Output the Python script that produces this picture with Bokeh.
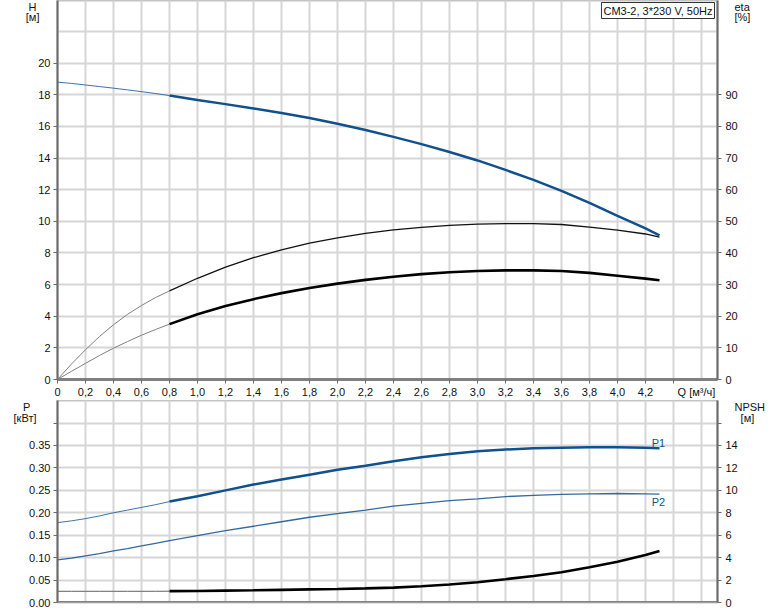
from bokeh.plotting import figure
from bokeh.models import Range1d, LinearAxis, FixedTicker, Label, Grid, Span
from bokeh.layouts import column
from bokeh.embed import file_html
from bokeh.resources import INLINE

# ---------------- data ----------------
Q = [0, 0.1, 0.2, 0.3, 0.4, 0.5, 0.6, 0.7, 0.8, 1.0, 1.2, 1.4, 1.6, 1.8, 2.0,
     2.2, 2.4, 2.6, 2.8, 3.0, 3.2, 3.4, 3.6, 3.8, 4.0, 4.2, 4.3]
H = [18.8, 18.72, 18.62, 18.52, 18.42, 18.31, 18.2, 18.08, 17.95, 17.67, 17.41,
     17.14, 16.85, 16.53, 16.17, 15.78, 15.34, 14.88, 14.38, 13.85, 13.25,
     12.62, 11.93, 11.17, 10.35, 9.55, 9.12]
ETA_PUMP = [0, 4.9, 9.4, 13.6, 17.3, 20.6, 23.4, 25.9, 28.0, 32.0, 35.5, 38.5,
            41.0, 43.1, 44.8, 46.2, 47.3, 48.1, 48.7, 49.1, 49.3, 49.3, 49.0,
            48.2, 47.2, 46.0, 45.0]
ETA_TOTAL = [0, 2.6, 5.1, 7.6, 9.9, 12.0, 14.0, 15.8, 17.5, 20.6, 23.2, 25.4,
             27.3, 28.9, 30.3, 31.5, 32.5, 33.3, 33.9, 34.3, 34.5, 34.5, 34.3,
             33.7, 32.8, 31.9, 31.4]
P1 = [0.178, 0.182, 0.187, 0.193, 0.200, 0.206, 0.212, 0.218, 0.225, 0.237,
      0.250, 0.263, 0.274, 0.285, 0.296, 0.305, 0.315, 0.324, 0.331, 0.337,
      0.341, 0.344, 0.345, 0.346, 0.346, 0.345, 0.344]
P2 = [0.095, 0.099, 0.104, 0.109, 0.115, 0.120, 0.126, 0.132, 0.138, 0.149,
      0.160, 0.170, 0.180, 0.190, 0.198, 0.206, 0.215, 0.221, 0.227, 0.231,
      0.236, 0.239, 0.241, 0.242, 0.243, 0.242, 0.2415]
NPSH = [1.0, 1.0, 1.0, 1.0, 1.0, 1.0, 1.0, 1.0, 1.01, 1.03, 1.06, 1.09, 1.13,
        1.17, 1.21, 1.26, 1.33, 1.45, 1.6, 1.81, 2.08, 2.37, 2.7, 3.14, 3.64,
        4.24, 4.59]
Q_SPLIT = 0.8

NB = "\u00a0"
X_TICKS = [0, 0.2, 0.4, 0.6, 0.8, 1.0, 1.2, 1.4, 1.6, 1.8, 2.0, 2.2, 2.4, 2.6,
           2.8, 3.0, 3.2, 3.4, 3.6, 3.8, 4.0, 4.2, 4.4]
X_LABELS = ["0", "0,2", "0,4", "0,6", "0,8", "1,0", "1,2", "1,4", "1,6", "1,8",
            "2,0", "2,2", "2,4", "2,6", "2,8", "3,0", "3,2", "3,4", "3,6", "3,8",
            "4,0", "4,2", NB * 15 + "Q [м³/ч]"]
X_GRID = [0.2, 0.4, 0.6, 0.8, 1.0, 1.2, 1.4, 1.6, 1.8, 2.0, 2.2, 2.4, 2.6, 2.8,
          3.0, 3.2, 3.4, 3.6, 3.8, 4.0, 4.2, 4.4, 4.6]
H_TICKS = [0, 2, 4, 6, 8, 10, 12, 14, 16, 18, 20]
H_GRID = [2, 4, 6, 8, 10, 12, 14, 16, 18, 20, 22]
ETA_TICKS = [0, 10, 20, 30, 40, 50, 60, 70, 80, 90]
P_TICKS = [0, 0.05, 0.1, 0.15, 0.2, 0.25, 0.3, 0.35, 0.4]
P_LABELS = ["0.00", "0.05", "0.10", "0.15", "0.20", "0.25", "0.30", "0.35", NB]
P_GRID = [0.05, 0.1, 0.15, 0.2, 0.25, 0.3, 0.35, 0.4]
NPSH_TICKS = [0, 2, 4, 6, 8, 10, 12, 14, 16]
NPSH_LABELS = ["0", "2", "4", "6", "8", "10", "12", "14", NB]

TITLE = "CM3-2, 3*230 V, 50Hz"
H_TITLE = ["H" + NB, "[м]"]
ETA_TITLE = ["eta", "[%]"]
P_TITLE = ["P" + NB * 2, "[кВт]"]
NPSH_TITLE = ["NPSH", NB * 2 + "[м]"]

# ---------------- style ----------------
FONT = "Liberation Sans"
FS = "11px"
BLUE = "#10508c"
GRIDC = "#d6d6d6"
AXC = "#6a6a6a"
TXT = "#111111"

PX_Q = 140.0          # px per Q unit
PX_H = 15.9           # px per m of H
PX_P = 448.6          # px per kW
TOP_FRAME = 381
BOT_FRAME = 202
X_END = 660 / PX_Q
H_END = TOP_FRAME / PX_H
P_END = BOT_FRAME / PX_P


def split(q, v):
    i = q.index(Q_SPLIT)
    return (q[:i + 1], v[:i + 1]), (q[i:], v[i:])


def style_axis(ax, ticks, labels=None, tick_out=4, standoff=3):
    ax.ticker = FixedTicker(ticks=ticks)
    if labels is not None:
        ax.major_label_overrides = {t: l for t, l in zip(ticks, labels)}
    ax.axis_line_color = AXC
    ax.axis_line_width = 2
    ax.major_tick_line_color = AXC
    ax.major_tick_out = tick_out
    ax.major_tick_in = 0
    ax.minor_tick_line_color = None
    ax.major_label_text_font = FONT
    ax.major_label_text_font_size = FS
    ax.major_label_text_color = TXT
    ax.major_label_standoff = standoff


def title_axis(p, side, ticks, labels, standoff, y_range_name="default"):
    """An axis with no line or ticks, used only to show the axis titles."""
    ax = LinearAxis(y_range_name=y_range_name)
    ax.ticker = FixedTicker(ticks=ticks)
    ax.major_label_overrides = {t: l for t, l in zip(ticks, labels)}
    ax.axis_line_color = None
    ax.major_tick_line_color = None
    ax.minor_tick_line_color = None
    ax.major_tick_out = 0
    ax.major_tick_in = 0
    ax.major_label_standoff = standoff
    ax.major_label_text_font = FONT
    ax.major_label_text_font_size = FS
    ax.major_label_text_color = TXT
    p.add_layout(ax, side)


def base_fig(height, y_end, bottom, x_axis=True):
    kw = {} if x_axis else {"x_axis_location": None}
    f = figure(width=774, height=height, output_backend="svg",
               toolbar_location=None, tools="",
               x_range=Range1d(0, X_END), y_range=Range1d(0, y_end),
               min_border_left=57, min_border_right=57, min_border_top=0,
               min_border_bottom=bottom, **kw)
    f.outline_line_color = "#c4c4c4"
    f.outline_line_width = 2
    f.background_fill_color = "white"
    f.border_fill_color = "white"
    return f


# ---------------- top chart ----------------
p = base_fig(400, H_END, 19)
p.extra_y_ranges = {"eta": Range1d(0, H_END * 5)}

style_axis(p.xaxis[0], X_TICKS, X_LABELS, tick_out=4, standoff=2)
p.xaxis[0].axis_line_color = "#808080"
p.xaxis[0].axis_line_width = 3
style_axis(p.yaxis[0], H_TICKS)
ax_eta = LinearAxis(y_range_name="eta")
style_axis(ax_eta, ETA_TICKS, tick_out=4, standoff=4)
p.add_layout(ax_eta, "right")

title_ticks_top = [(TOP_FRAME - 5) / PX_H, (TOP_FRAME - 17) / PX_H]
title_axis(p, "left", title_ticks_top, H_TITLE, -4)
title_axis(p, "right", title_ticks_top, ETA_TITLE, -6)

p.xgrid.ticker = FixedTicker(ticks=X_GRID)
p.ygrid.ticker = FixedTicker(ticks=H_GRID)
for g in (p.xgrid[0], p.ygrid[0]):
    g.grid_line_color = GRIDC
    g.grid_line_width = 2

(tq, tv), (kq, kv) = split(Q, H)
p.line(tq, tv, line_color=BLUE, line_width=1, line_alpha=0.8)
p.line(kq, kv, line_color=BLUE, line_width=2.5)

(tq, tv), (kq, kv) = split(Q, ETA_PUMP)
p.line(tq, tv, line_color="#808080", line_width=1, y_range_name="eta")
p.line(kq, kv, line_color="#111111", line_width=1.3, y_range_name="eta")

(tq, tv), (kq, kv) = split(Q, ETA_TOTAL)
p.line(tq, tv, line_color="#808080", line_width=1, y_range_name="eta")
p.line(kq, kv, line_color="#000000", line_width=2.6, y_range_name="eta")

p.add_layout(Label(x=X_END, y=H_END, x_offset=-3, y_offset=-2, text=TITLE,
                   text_font=FONT, text_font_size=FS, text_color=TXT,
                   text_align="right", text_baseline="top",
                   border_line_color="#333333", border_line_width=1,
                   background_fill_color="white", padding=2))

# ---------------- bottom chart ----------------
q = base_fig(211, P_END, 9, x_axis=False)
q.x_range = p.x_range
q.extra_y_ranges = {"npsh": Range1d(0, P_END * 40)}

style_axis(q.yaxis[0], P_TICKS, P_LABELS)
ax_npsh = LinearAxis(y_range_name="npsh")
style_axis(ax_npsh, NPSH_TICKS, NPSH_LABELS, tick_out=4, standoff=4)
q.add_layout(ax_npsh, "right")

title_ticks_bot = [(BOT_FRAME - 5) / PX_P, (BOT_FRAME - 17) / PX_P]
title_axis(q, "left", title_ticks_bot, P_TITLE, -10)
title_axis(q, "right", title_ticks_bot, NPSH_TITLE, -6)

q.ygrid.ticker = FixedTicker(ticks=P_GRID)
q.ygrid[0].grid_line_color = GRIDC
q.ygrid[0].grid_line_width = 2
q.add_layout(Grid(dimension=0, ticker=FixedTicker(ticks=X_GRID),
                  grid_line_color=GRIDC, grid_line_width=2))
q.add_layout(Span(location=0, dimension="width", line_color="#808080",
                  line_width=3))

(tq, tv), (kq, kv) = split(Q, P1)
q.line(tq, tv, line_color=BLUE, line_width=1, line_alpha=0.8)
q.line(kq, kv, line_color=BLUE, line_width=2.5)
q.line(Q, P2, line_color=BLUE, line_width=1.3, line_alpha=0.85)

(tq, tv), (kq, kv) = split(Q, NPSH)
q.line(tq, tv, line_color="#606060", line_width=1, y_range_name="npsh")
q.line(kq, kv, line_color="#000000", line_width=2.6, y_range_name="npsh")

for txt, val, off in (("P1", P1[-1], 5), ("P2", P2[-1], -8)):
    q.add_layout(Label(x=Q[-1], y=val, x_offset=-1, y_offset=off, text=txt,
                       text_font=FONT, text_font_size=FS, text_color=BLUE,
                       text_align="center", text_baseline="middle"))

layout = column(p, q, spacing=0)
open("out.html", "w").write(file_html(layout, INLINE))
